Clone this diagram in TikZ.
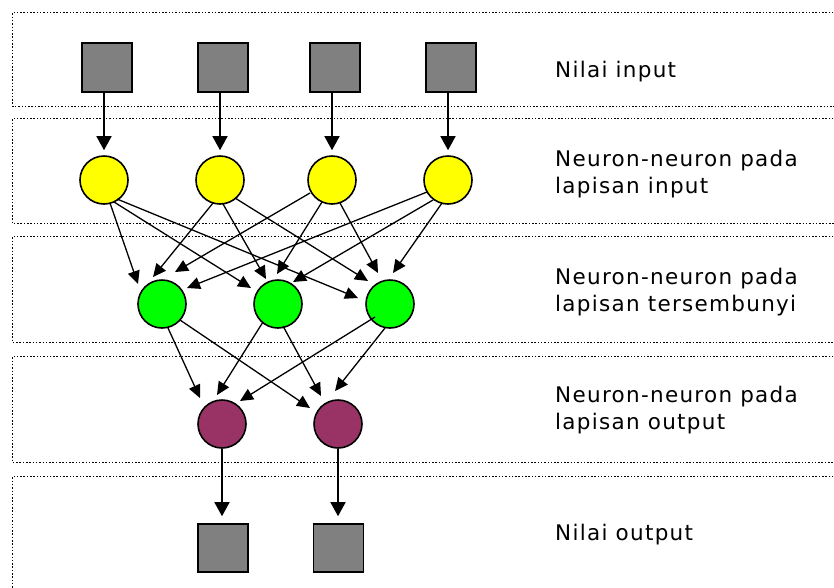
\documentclass[tikz,border=0pt]{standalone}
\usepackage{fontspec}
\newfontfamily\lblfont[LetterSpace=6]{DejaVu Sans}
\usetikzlibrary{arrows.meta,calc}
\definecolor{sqgray}{HTML}{808080}
\definecolor{ylw}{HTML}{FFFF00}
\definecolor{grn}{HTML}{00FF00}
\definecolor{plum}{HTML}{993366}
\begin{document}
\begin{tikzpicture}[x=1pt,y=-1pt,
  boxline/.style={line width=1.5pt, dash pattern=on 1.5pt off 1.8pt},
  sq/.style={draw, line width=1.6pt, fill=sqgray, minimum width=50pt, minimum height=49pt, inner sep=0pt},
  neuron/.style={draw, circle, line width=1.6pt, minimum size=48pt, inner sep=0pt},
  vin/.style={line width=1.5pt, -{Triangle[length=14pt,width=15pt]}},
  link/.style={line width=1.3pt, -{Triangle[length=13pt,width=12pt]}},
  lbl/.style={anchor=base west, inner sep=0pt, font=\lblfont\fontsize{21.5pt}{27.5pt}\selectfont}
]
\useasboundingbox[fill=white] (0,0) rectangle (834,587);
% dotted layer boxes (open to the right)
\draw[boxline] (840,12.5) -- (12.5,12.5) -- (12.5,106.5) -- (840,106.5);
\draw[boxline] (840,118.5) -- (12.5,118.5) -- (12.5,223.5) -- (840,223.5);
\draw[boxline] (840,236.5) -- (12.5,236.5) -- (12.5,342.5) -- (840,342.5);
\draw[boxline] (840,356.5) -- (12.5,356.5) -- (12.5,462.5) -- (840,462.5);
\draw[boxline] (840,476.5) -- (12.5,476.5) -- (12.5,600);
% input values
\node[sq] (S1) at (107,67.5) {};
\node[sq] (S2) at (223,67.5) {};
\node[sq] (S3) at (335,67.5) {};
\node[sq] (S4) at (451,67.5) {};
% input layer
\node[neuron, fill=ylw] (Y1) at (104,180) {};
\node[neuron, fill=ylw] (Y2) at (220,180) {};
\node[neuron, fill=ylw] (Y3) at (332,180) {};
\node[neuron, fill=ylw] (Y4) at (448,180) {};
% hidden layer
\node[neuron, fill=grn] (G1) at (162,304) {};
\node[neuron, fill=grn] (G2) at (278,304) {};
\node[neuron, fill=grn] (G3) at (390,304) {};
% output layer
\node[neuron, fill=plum] (P1) at (222,424) {};
\node[neuron, fill=plum] (P2) at (338,424) {};
% output values
\node[sq, minimum height=48pt] (O1) at (223,548) {};
\node[sq, minimum height=48pt] (O2) at (338.5,548) {};
% labels
\node[lbl] (L1) at (555,77) {Nilai input};
\node[lbl] (L2) at (555,166) {\begin{tabular}[t]{@{}l@{}}Neuron-neuron pada\\lapisan input\end{tabular}};
\node[lbl] (L3) at (555,284) {\begin{tabular}[t]{@{}l@{}}Neuron-neuron pada\\lapisan tersembunyi\end{tabular}};
\node[lbl] (L4) at (555,402) {\begin{tabular}[t]{@{}l@{}}Neuron-neuron pada\\lapisan output\end{tabular}};
\node[lbl] (L5) at (555,540) {Nilai output};
% input arrows
\foreach \i in {1,2,3,4}
  \draw[vin] (S\i.south -| Y\i) -- ($(Y\i.north)+(0,-5)$);
% input -> hidden
\draw[link] ($(Y1)+(6,23)$) -- ($(G1)+(-24,-20)$);
\draw[link] ($(Y1)+(10,22)$) -- ($(G2)+(-27,-16)$);
\draw[link] ($(Y1)+(13,19)$) -- ($(G3)+(-32,-6)$);
\draw[link] ($(Y2)+(-7,23)$) -- ($(G1)+(-9,-27)$);
\draw[link] ($(Y2)+(3,24)$) -- ($(G2)+(-12,-25)$);
\draw[link] ($(Y2)+(15,18)$) -- ($(G3)+(-22,-23)$);
\draw[link] ($(Y3)+(-22,13)$) -- ($(G1)+(13,-32)$);
\draw[link] ($(Y3)+(-10,22)$) -- ($(G2)+(-1,-30)$);
\draw[link] ($(Y3)+(8,23)$) -- ($(G3)+(-12,-31)$);
\draw[link] ($(Y4)+(-21,12)$) -- ($(G1)+(25,-16)$);
\draw[link] ($(Y4)+(-15,20)$) -- ($(G2)+(15,-22)$);
\draw[link] ($(Y4)+(-6,23)$) -- ($(G3)+(3,-31)$);
% hidden -> output
\draw[link] ($(G1)+(6,24)$) -- ($(P1)+(-22,-26)$);
\draw[link] ($(G1)+(18,16)$) -- ($(P2)+(-28,-16)$);
\draw[link] ($(G2)+(-15,18)$) -- ($(P1)+(-5,-29)$);
\draw[link] ($(G2)+(5,22)$) -- ($(P2)+(-17,-28)$);
\draw[link] ($(G3)+(-15,13)$) -- ($(P1)+(18,-23)$);
\draw[link] ($(G3)+(-5,24)$) -- ($(P2)+(-3,-33)$);
% output arrows
\draw[vin] (P1.south) -- ($(P1.south |- O1.north)+(0,-7)$);
\draw[vin] (P2.south) -- ($(P2.south |- O2.north)+(0,-7)$);
\end{tikzpicture}
\end{document}
